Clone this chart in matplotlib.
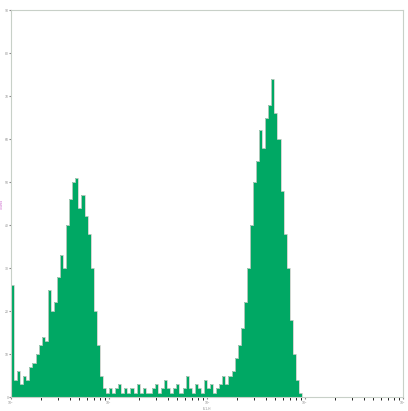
import numpy as np
import matplotlib
matplotlib.use("Agg")
import matplotlib.pyplot as plt

# counts per log-spaced channel (128 channels over 10^0..10^4)
counts = [26, 4, 6, 3, 5, 4, 7, 8, 10, 12, 14, 13, 25, 20, 22, 28, 33, 30, 40, 46,
          50, 51, 44, 47, 42, 38, 30, 20, 12, 5, 2, 1, 2, 1, 2, 3, 1, 2, 1, 2,
          1, 3, 1, 2, 1, 1, 2, 3, 1, 2, 4, 2, 1, 2, 3, 1, 2, 5, 2, 1,
          3, 2, 1, 4, 2, 3, 1, 2, 3, 5, 3, 5, 6, 9, 12, 16, 22, 30, 40, 50,
          55, 62, 58, 65, 68, 74, 66, 60, 48, 38, 30, 18, 10, 4, 1, 0, 0, 0, 0, 0,
          0, 0, 0, 0, 0, 0, 0, 0, 0, 0, 0, 0, 0, 0, 0, 0, 0, 0, 0, 0,
          0, 0, 0, 0, 0, 0, 0, 0]
edges = np.logspace(0, 4, len(counts) + 1)

fig = plt.figure(figsize=(4.08, 4.11), dpi=100)
ax = fig.add_axes([11/408, 14/411, 392/408, 387/411])
ax.stairs(counts, edges, fill=True, color="#00a864", edgecolor="#00a864")
ax.stairs(counts, edges, color="#c8d0c8", linewidth=0.6)
ax.set_xscale("log")
ax.set_xlim(1, 1e4)
ax.set_ylim(0, 90)
ax.set_yticks(range(0, 91, 10))
ax.tick_params(labelsize=2.2, length=1.5, colors="#888888", pad=0.3)
for s in ax.spines.values():
    s.set_color("#c8d0c8")
ax.set_xlabel("FL1-H", fontsize=2.2, color="#888888", labelpad=0.2)
ax.set_ylabel("Counts", fontsize=2.2, color="#cc66cc", labelpad=0.3)
fig.savefig("out.png", dpi=100)
